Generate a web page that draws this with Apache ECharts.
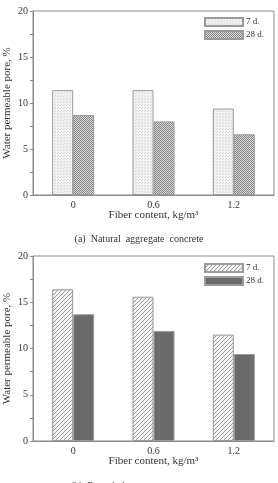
<!DOCTYPE html>
<html>
<head>
<meta charset="utf-8">
<script src="https://cdn.jsdelivr.net/npm/echarts@6/dist/echarts.min.js"></script>
<style>
  html, body { margin: 0; padding: 0; background: #fff; }
  #chart { width: 278px; height: 483px; }
</style>
</head>
<body>
<div id="chart"></div>
<script>
// 数据
const categories = ['0', '0.6', '1.2'];
const seriesNames = ['7 d.', '28 d.'];
// (a) 天然骨料混凝土
const natural7d = [11.4, 11.4, 9.4];
const natural28d = [8.7, 8.0, 6.6];
// (b) 再生骨料混凝土
const recycled7d = [16.4, 15.6, 11.5];
const recycled28d = [13.7, 11.9, 9.4];
const yTicks = [0, 5, 10, 15, 20];
const captions = ['(a)  Natural  aggregate  concrete', '(b)  Recycled  aggregate  concrete'];

const FONT = '"Liberation Serif", "DejaVu Serif", serif';
const TEXT = '#333';
const LINE = '#8a8a8a';

// 生成填充图案
function makePattern(size, draw) {
  const c = document.createElement('canvas');
  c.width = size; c.height = size;
  const ctx = c.getContext('2d');
  draw(ctx, size);
  return { image: c, repeat: 'repeat' };
}

// 细点 (a 7 d.)
const dotPattern = makePattern(3, (ctx) => {
  ctx.fillStyle = '#f3f3f3';
  ctx.fillRect(0, 0, 3, 3);
  ctx.fillStyle = '#d4d4d4';
  ctx.fillRect(0, 0, 1, 1);
  ctx.fillRect(1, 2, 1, 1);
});

// 网格 (a 28 d.)
const crossPattern = makePattern(2, (ctx) => {
  ctx.fillStyle = '#d8d8d8';
  ctx.fillRect(0, 0, 2, 2);
  ctx.fillStyle = '#858585';
  ctx.fillRect(0, 0, 1, 1);
  ctx.fillRect(1, 1, 1, 1);
});

// 斜线 (b 7 d.)
const hatchPattern = makePattern(4, (ctx) => {
  ctx.fillStyle = '#f4f4f4';
  ctx.fillRect(0, 0, 4, 4);
  ctx.strokeStyle = '#9a9a9a';
  ctx.lineWidth = 1;
  ctx.beginPath();
  ctx.moveTo(-1, 5); ctx.lineTo(5, -1);
  ctx.moveTo(-1, 1); ctx.lineTo(1, -1);
  ctx.moveTo(3, 5); ctx.lineTo(5, 3);
  ctx.stroke();
});

const grids = [
  { left: 33, top: 11, width: 241, height: 184 },
  { left: 33, top: 256, width: 241, height: 185 }
];

function makeYAxis(gridIndex) {
  return {
    type: 'value', gridIndex: gridIndex,
    min: yTicks[0], max: yTicks[yTicks.length - 1], interval: 5,
    name: 'Water permeable pore, %',
    nameLocation: 'middle', nameGap: 20, nameMoveOverlap: false,
    nameTextStyle: { fontFamily: FONT, fontSize: 11, color: TEXT },
    axisLine: { show: true, lineStyle: { color: LINE } },
    axisTick: { show: true, length: 3, lineStyle: { color: LINE } },
    minorTick: { show: true, splitNumber: 2, length: 3, lineStyle: { color: LINE } },
    axisLabel: { fontFamily: FONT, fontSize: 10, color: TEXT, margin: 5 },
    splitLine: { show: false }
  };
}

function makeXAxis(gridIndex) {
  return {
    type: 'category', gridIndex: gridIndex, data: categories,
    name: 'Fiber content, kg/m³',
    nameLocation: 'middle', nameGap: 15, nameMoveOverlap: false,
    nameTextStyle: { fontFamily: FONT, fontSize: 11, color: TEXT },
    axisLine: { show: true, lineStyle: { color: LINE } },
    axisTick: { show: false },
    axisLabel: { fontFamily: FONT, fontSize: 10, color: TEXT, margin: 5 }
  };
}

function makeBar(name, idx, data, fill) {
  return {
    name: name, type: 'bar', xAxisIndex: idx, yAxisIndex: idx,
    data: data, barWidth: 21, barGap: '0%',
    itemStyle: { color: fill, borderColor: '#9a9a9a', borderWidth: 1 },
    emphasis: { disabled: true }
  };
}

function makeLegend(top, names) {
  return {
    data: names, orient: 'vertical', left: 204, top: top,
    itemWidth: 38, itemHeight: 8, itemGap: 3, icon: 'rect',
    textStyle: { fontFamily: FONT, fontSize: 9, color: TEXT, padding: [0, 0, 0, -2] },
    padding: 0
  };
}

const chart = echarts.init(document.getElementById('chart'));
const option = {
  animation: false,
  grid: grids.map(g => Object.assign({
    show: true, borderColor: LINE, borderWidth: 1, backgroundColor: 'transparent',
    containLabel: false, outerBoundsMode: 'none'
  }, g)),
  xAxis: [makeXAxis(0), makeXAxis(1)],
  yAxis: [makeYAxis(0), makeYAxis(1)],
  legend: [
    makeLegend(17, ['a7', 'a28']),
    makeLegend(263, ['b7', 'b28'])
  ],
  series: [
    makeBar('a7', 0, natural7d, dotPattern),
    makeBar('a28', 0, natural28d, crossPattern),
    makeBar('b7', 1, recycled7d, hatchPattern),
    makeBar('b28', 1, recycled28d, '#6b6b6b')
  ],
  graphic: [
    { type: 'text', left: 'center', top: 234, style: { text: captions[0], font: '10px ' + FONT, fill: TEXT } },
    { type: 'text', left: 'center', top: 481, style: { text: captions[1], font: '10px ' + FONT, fill: TEXT } }
  ]
};
// 图例显示名
const legendNames = { a7: seriesNames[0], a28: seriesNames[1], b7: seriesNames[0], b28: seriesNames[1] };
option.legend.forEach(l => { l.formatter = n => legendNames[n]; });
chart.setOption(option);
</script>
</body>
</html>
